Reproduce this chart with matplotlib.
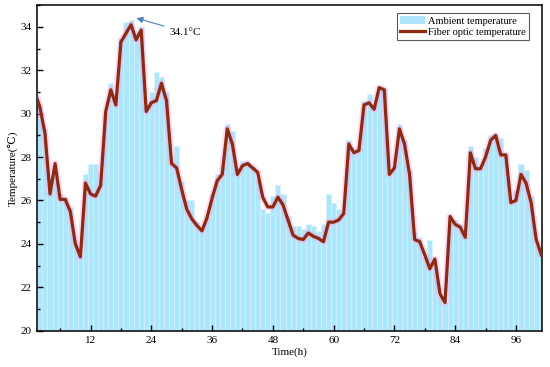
"""Ambient vs fiber optic temperature, hourly bars + line."""
import matplotlib
matplotlib.use("Agg")
import matplotlib.pyplot as plt
import numpy as np
from matplotlib.lines import Line2D
from matplotlib.patches import Patch
from matplotlib.ticker import MultipleLocator

hours = list(range(1, 102))

fiber_temp = [
    31.0, 30.3, 29.1, 26.3, 27.7, 26.05, 26.05, 25.5, 24.0, 23.4,
    26.8, 26.3, 26.2, 26.7, 30.1, 31.1, 30.4, 33.3, 33.7, 34.1,
    33.4, 33.85, 30.1, 30.5, 30.6, 31.4, 30.6, 27.7, 27.5, 26.5,
    25.6, 25.15, 24.85, 24.6, 25.2, 26.1, 26.9, 27.2, 29.3, 28.6,
    27.2, 27.6, 27.7, 27.5, 27.3, 26.15, 25.7, 25.7, 26.15, 25.8,
    25.1, 24.4, 24.25, 24.2, 24.5, 24.35, 24.25, 24.1, 25.0, 25.0,
    25.1, 25.4, 28.6, 28.2, 28.3, 30.4, 30.5, 30.2, 31.2, 31.1,
    27.2, 27.5, 29.3, 28.6, 27.2, 24.2, 24.1, 23.5, 22.85, 23.3,
    21.7, 21.3, 25.26, 24.9, 24.77, 24.3, 28.2, 27.46, 27.46, 28.0,
    28.77, 29.0, 28.1, 28.1, 25.9, 26.0, 27.2, 26.8, 25.9, 24.2,
    23.5,
]

ambient_temp = [
    30.9, 30.4, 29.3, 26.6, 27.3, 26.3, 26.1, 25.7, 24.2, 23.5,
    27.2, 27.7, 27.7, 27.3, 30.0, 31.4, 30.9, 33.5, 34.2, 34.3,
    33.8, 34.0, 30.4, 31.0, 31.9, 31.7, 31.0, 28.0, 28.5, 26.9,
    26.0, 26.0, 25.0, 24.7, 25.3, 26.3, 27.2, 27.6, 29.5, 29.2,
    27.2, 27.8, 27.8, 27.6, 27.0, 25.6, 25.4, 26.2, 26.7, 26.3,
    25.3, 24.8, 24.8, 24.7, 24.9, 24.8, 24.6, 24.9, 26.3, 25.9,
    25.6, 25.4, 28.8, 28.4, 28.5, 30.6, 30.9, 30.4, 31.2, 31.2,
    27.3, 27.6, 29.5, 28.8, 27.4, 24.6, 24.3, 23.4, 24.2, 23.0,
    21.6, 21.3, 25.1, 25.1, 24.9, 24.5, 28.5, 28.0, 27.5, 28.4,
    29.0, 29.0, 28.9, 28.1, 25.9, 26.5, 27.7, 27.4, 26.2, 24.1,
    23.5,
]

plt.rcParams["font.family"] = ["Liberation Serif", "DejaVu Serif"]

fig = plt.figure(figsize=(5.5, 3.67), dpi=100)
ax = fig.add_axes([0.067, 0.099, 0.918, 0.887])

ax.bar(hours, np.array(ambient_temp) - 20, bottom=20, width=1.0,
       color="#aee7fb", edgecolor="#d6f3fd", linewidth=0.4, zorder=1)
# pink halo under the fiber line
ax.plot(hours, fiber_temp, color="#ff9ee0", lw=5, alpha=0.4,
        solid_joinstyle="round", solid_capstyle="round", zorder=2)
ax.plot(hours, fiber_temp, color="#8c2a12", lw=2.3, zorder=3)

ax.annotate("34.1\u00b0C", xy=(21.1, 34.4), xytext=(27.6, 33.75),
            fontsize=8, va="center", ha="left",
            arrowprops=dict(arrowstyle="-|>", color="#4a7ebb", lw=0.8,
                            mutation_scale=9, shrinkA=2, shrinkB=0))

ax.set_xlim(1.4, 101.1)
ax.set_ylim(20, 35)
ax.xaxis.set_major_locator(MultipleLocator(12))
ax.xaxis.set_minor_locator(MultipleLocator(6))
ax.yaxis.set_major_locator(MultipleLocator(2))
ax.yaxis.set_minor_locator(MultipleLocator(1))
ax.tick_params(which="both", direction="in", labelsize=8, width=1)
ax.tick_params(which="major", length=4)
ax.tick_params(which="minor", length=2.5)
for s in ax.spines.values():
    s.set_linewidth(1.1)

ax.set_xlabel("Time(h)", fontsize=8, labelpad=2)
ax.set_ylabel("Temperature(\u2103)", fontsize=8, labelpad=2)
ax.yaxis.label.set_family(["Liberation Serif", "DejaVu Serif", "Noto Sans CJK SC"])

handles = [Patch(facecolor="#aee7fb", edgecolor="none"),
           Line2D([0], [0], color="#8c2a12", lw=2.3)]
leg = ax.legend(handles, ["Ambient temperature", "Fiber optic temperature"],
                loc="upper right", bbox_to_anchor=(0.975, 0.975), fontsize=7.5,
                frameon=True, fancybox=False, edgecolor="#333333",
                borderpad=0.3, handlelength=2.4, handletextpad=0.3,
                labelspacing=0.2, borderaxespad=0)
leg.get_frame().set_linewidth(0.8)

fig.savefig("out.png", dpi=100)
